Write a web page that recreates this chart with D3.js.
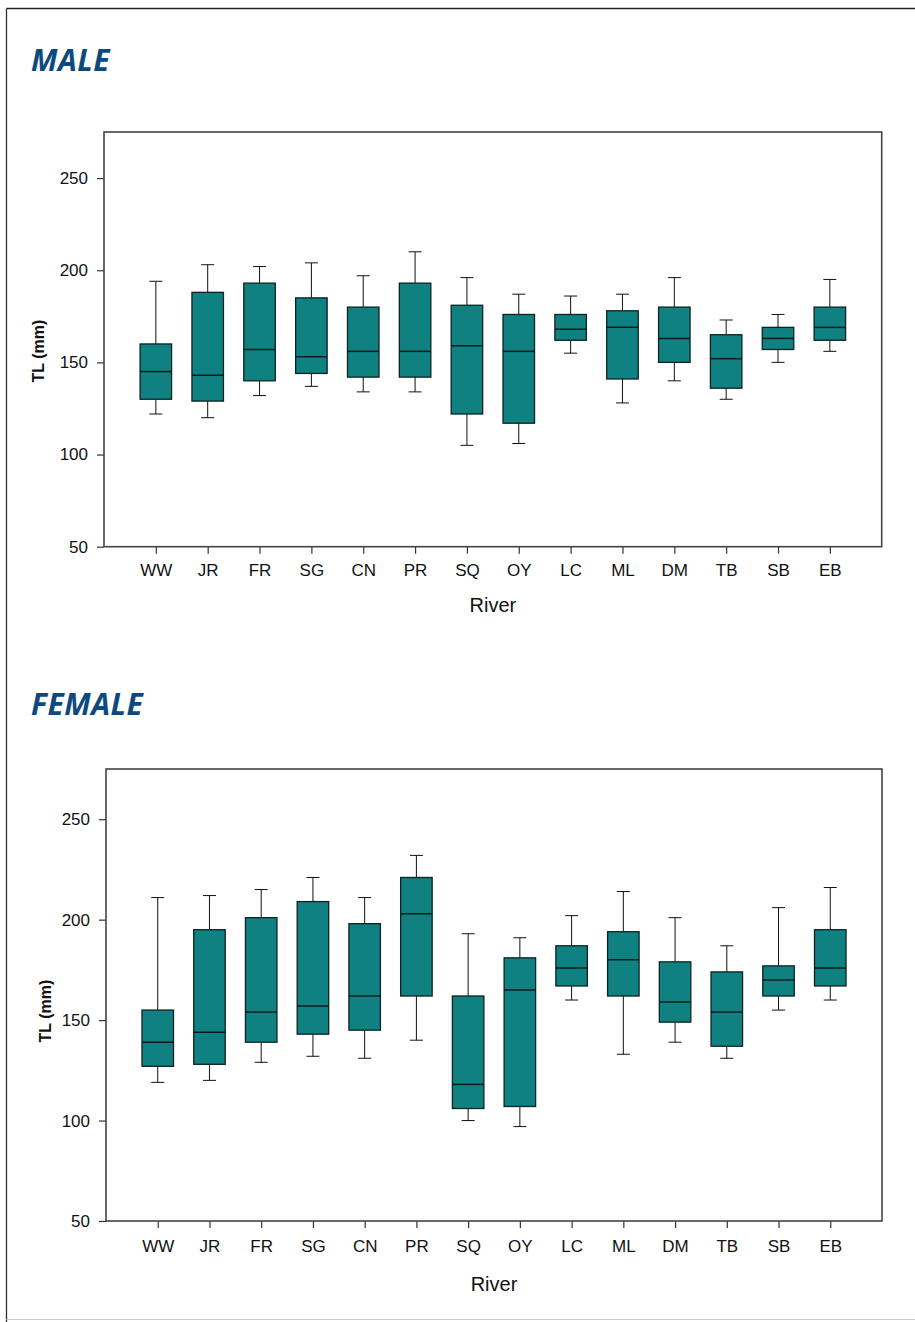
<!DOCTYPE html>
<html>
<head>
<meta charset="utf-8">
<script src="https://cdn.jsdelivr.net/npm/d3@7"></script>
<style>
  html, body { margin: 0; padding: 0; background: #fff; }
  svg { display: block; }
</style>
</head>
<body>
<svg id="fig" width="915" height="1322"></svg>
<script>
// River sites along the x axis
const rivers = ["WW", "JR", "FR", "SG", "CN", "PR", "SQ", "OY", "LC", "ML", "DM", "TB", "SB", "EB"];

// Total length (mm) box-plot summaries, males
const maleLow    = [122, 120, 132, 137, 134, 134, 105, 106, 155, 128, 140, 130, 150, 156];
const maleQ1     = [130, 129, 140, 144, 142, 142, 122, 117, 162, 141, 150, 136, 157, 162];
const maleMedian = [145, 143, 157, 153, 156, 156, 159, 156, 168, 169, 163, 152, 163, 169];
const maleQ3     = [160, 188, 193, 185, 180, 193, 181, 176, 176, 178, 180, 165, 169, 180];
const maleHigh   = [194, 203, 202, 204, 197, 210, 196, 187, 186, 187, 196, 173, 176, 195];

// Total length (mm) box-plot summaries, females
const femaleLow    = [119, 120, 129, 132, 131, 140, 100,  97, 160, 133, 139, 131, 155, 160];
const femaleQ1     = [127, 128, 139, 143, 145, 162, 106, 107, 167, 162, 149, 137, 162, 167];
const femaleMedian = [139, 144, 154, 157, 162, 203, 118, 165, 176, 180, 159, 154, 170, 176];
const femaleQ3     = [155, 195, 201, 209, 198, 221, 162, 181, 187, 194, 179, 174, 177, 195];
const femaleHigh   = [211, 212, 215, 221, 211, 232, 193, 191, 202, 214, 201, 187, 206, 216];

const yTicks = [50, 100, 150, 200, 250];
const yDomain = [50, 275];

const svg = d3.select("#fig");

// outer page frame
svg.append("line").attr("x1", 6.5).attr("x2", 915).attr("y1", 8.5).attr("y2", 8.5)
  .attr("stroke", "#222").attr("stroke-width", 1.5);
svg.append("line").attr("x1", 6.5).attr("x2", 6.5).attr("y1", 8.5).attr("y2", 1322)
  .attr("stroke", "#333").attr("stroke-width", 1.3);
svg.append("line").attr("x1", 6.5).attr("x2", 915).attr("y1", 1319.5).attr("y2", 1319.5)
  .attr("stroke", "#ccc").attr("stroke-width", 1);

function panel(cfg) {
  const { title, titleY, left, top, width, height, low, q1, med, q3, high, labelPad, riverY, ylabX, ylabY } = cfg;

  svg.append("text")
    .attr("x", 31).attr("y", titleY)
    .attr("font-family", "'Noto Sans', 'Open Sans', sans-serif")
    .attr("font-weight", 700).attr("font-style", "italic")
    .attr("font-size", 30).attr("letter-spacing", 0.5)
    .attr("fill", "#0b4a80")
    .text(title);

  const g = svg.append("g").attr("transform", `translate(${left},${top})`);

  const x = d3.scalePoint().domain(rivers).range([0, width]).padding(1);
  const y = d3.scaleLinear().domain(yDomain).range([height, 0]);

  const boxW = 31.5, capW = 13;

  const rows = rivers.map((r, i) => ({ r, low: low[i], q1: q1[i], med: med[i], q3: q3[i], high: high[i] }));

  const b = g.selectAll("g.box").data(rows).join("g").attr("class", "box");

  // whiskers
  b.append("line").attr("x1", d => x(d.r)).attr("x2", d => x(d.r))
    .attr("y1", d => y(d.high)).attr("y2", d => y(d.q3))
    .attr("stroke", "#111").attr("stroke-width", 1);
  b.append("line").attr("x1", d => x(d.r)).attr("x2", d => x(d.r))
    .attr("y1", d => y(d.q1)).attr("y2", d => y(d.low))
    .attr("stroke", "#111").attr("stroke-width", 1);
  // caps
  b.append("line").attr("x1", d => x(d.r) - capW / 2).attr("x2", d => x(d.r) + capW / 2)
    .attr("y1", d => y(d.high)).attr("y2", d => y(d.high))
    .attr("stroke", "#111").attr("stroke-width", 1);
  b.append("line").attr("x1", d => x(d.r) - capW / 2).attr("x2", d => x(d.r) + capW / 2)
    .attr("y1", d => y(d.low)).attr("y2", d => y(d.low))
    .attr("stroke", "#111").attr("stroke-width", 1);
  // boxes
  b.append("rect")
    .attr("x", d => x(d.r) - boxW / 2).attr("width", boxW)
    .attr("y", d => y(d.q3)).attr("height", d => y(d.q1) - y(d.q3))
    .attr("fill", "#0f8180").attr("stroke", "#0d2222").attr("stroke-width", 1.3);
  // medians
  b.append("line").attr("x1", d => x(d.r) - boxW / 2).attr("x2", d => x(d.r) + boxW / 2)
    .attr("y1", d => y(d.med)).attr("y2", d => y(d.med))
    .attr("stroke", "#0a1a1a").attr("stroke-width", 1.5);

  // axes
  const yAxis = g.append("g").call(d3.axisLeft(y).tickValues(yTicks).tickSize(7).tickPadding(9));
  const xAxis = g.append("g").attr("transform", `translate(0,${height})`)
    .call(d3.axisBottom(x).tickSize(7).tickPadding(labelPad));
  [yAxis, xAxis].forEach(a => {
    a.select(".domain").remove();
    a.selectAll(".tick line").attr("stroke", "#333").attr("stroke-width", 1.2);
    a.selectAll(".tick text").attr("font-family", "'Liberation Sans', Arial, sans-serif")
      .attr("font-size", 17).attr("fill", "#111");
  });

  // plot frame
  g.append("rect").attr("x", 0).attr("y", 0).attr("width", width).attr("height", height)
    .attr("fill", "none").attr("stroke", "#444").attr("stroke-width", 1.6);

  // axis titles
  svg.append("text")
    .attr("x", left + width / 2).attr("y", riverY)
    .attr("text-anchor", "middle")
    .attr("font-family", "'Liberation Sans', Arial, sans-serif")
    .attr("font-size", 20).attr("fill", "#111")
    .text("River");

  svg.append("text")
    .attr("transform", `translate(${ylabX},${ylabY}) rotate(-90)`)
    .attr("text-anchor", "middle")
    .attr("font-family", "'Liberation Sans', Arial, sans-serif")
    .attr("font-weight", 700)
    .attr("font-size", 16).attr("fill", "#111")
    .text("TL (mm)");
}

panel({
  title: "MALE", titleY: 71,
  left: 104, top: 132, width: 777.7, height: 414.7,
  low: maleLow, q1: maleQ1, med: maleMedian, q3: maleQ3, high: maleHigh,
  labelPad: 10.5, riverY: 612, ylabX: 44, ylabY: 351
});

panel({
  title: "FEMALE", titleY: 715,
  left: 106, top: 769, width: 776, height: 452,
  low: femaleLow, q1: femaleQ1, med: femaleMedian, q3: femaleQ3, high: femaleHigh,
  labelPad: 12, riverY: 1291, ylabX: 51, ylabY: 1011
});
</script>
</body>
</html>
